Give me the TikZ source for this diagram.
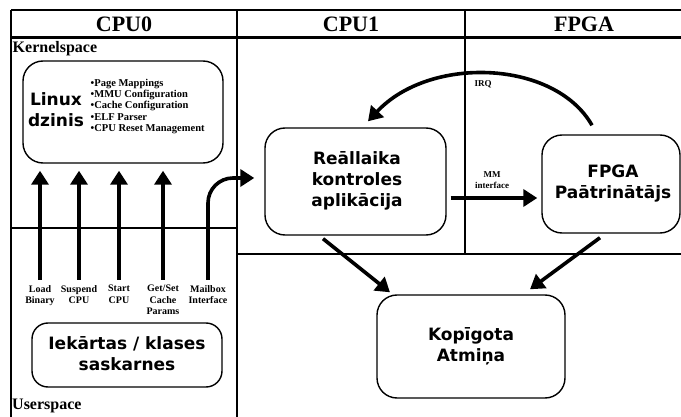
\documentclass[tikz,border=0pt]{standalone}
\usepackage{fontspec}
\setmainfont{Liberation Serif}
\newfontfamily\boxfont{DejaVu Sans}
\usetikzlibrary{arrows.meta}

\begin{document}
\begin{tikzpicture}[x=1pt,y=-1pt,
  frame/.style={line width=1.3pt},
  headline/.style={line width=2.6pt},
  procbox/.style={draw, line width=1.4pt, rounded corners=20pt, inner sep=0pt},
  boxtext/.style={font=\boxfont\bfseries\fontsize{17}{21}\selectfont, align=center, inner sep=0pt},
  headtext/.style={font=\bfseries\fontsize{22}{24}\selectfont, inner sep=0pt},
  spacetext/.style={font=\bfseries\fontsize{16}{18}\selectfont, inner sep=0pt, anchor=west},
  calltext/.style={font=\bfseries\fontsize{10}{11.5}\selectfont, align=center, inner sep=0pt, anchor=north},
  smalltext/.style={font=\bfseries\fontsize{9}{11}\selectfont, align=center, inner sep=0pt},
  flow/.style={line width=3.6pt, -{Triangle[length=14pt,width=17pt]}},
]
\useasboundingbox[fill=white] (0,0) rectangle (681,417);

% column and region frame
\draw[frame] (11,10) -- (681,10);
\draw[headline] (11,37.5) -- (681,37.5);
\draw[frame] (11,10) -- (11,417);
\draw[frame] (237,10) -- (237,417);
\draw[frame] (465,10) -- (465,254);
\draw[frame] (237,254) -- (681,254);
\draw[frame] (11,228) -- (237,228);

% column headings and space labels
\node[headtext] (hcpu0) at (124,24) {CPU0};
\node[headtext] (hcpu1) at (351,24) {CPU1};
\node[headtext] (hfpga) at (584,24) {FPGA};
\node[spacetext] (kspace) at (12.5,49) {Kernelspace};
\node[spacetext] (uspace) at (12,406) {Userspace};

% kernel driver
\node[procbox, minimum width=200pt, minimum height=102pt] (linux) at (123,112) {};
\node[boxtext] (linuxtxt) at (56,109.5) {Linux\\dzinis};
\node[font=\bfseries\fontsize{10.5}{11.2}\selectfont, align=left, inner sep=0pt, anchor=west] (duties) at (90.5,106.5)
  {•Page Mappings\\•MMU Configuration\\•Cache Configuration\\•ELF Parser\\•CPU Reset Management};

% user space interface
\node[procbox, rounded corners=16pt, minimum width=190pt, minimum height=64pt] (iface) at (127,355) {};
\node[boxtext] (ifacetxt) at (127,354) {Iekārtas / klases\\saskarnes};

% calls from user space
\node[calltext] (load) at (40,285) {Load\\Binary};
\node[calltext] (susp) at (79,285) {Suspend\\CPU};
\node[calltext] (start) at (119,285) {Start\\CPU};
\node[calltext] (cache) at (163,285) {Get/Set\\Cache\\Params};
\node[calltext] (mail) at (208,285) {Mailbox\\Interface};

\foreach \n in {load,susp,start,cache}
  \draw[flow, shorten >=7pt, shorten <=5pt] (\n.north) -- (\n.north |- linux.south);

% real-time application, accelerator, shared memory
\node[procbox, minimum width=181pt, minimum height=107pt] (rt) at (355.5,181.5) {};
\node[boxtext] (rttxt) at (357,181) {Reāllaika\\kontroles\\aplikācija};
\node[procbox, minimum width=138pt, minimum height=98pt] (fpga) at (611,184) {};
\node[boxtext] (fpgatxt) at (613,184) {FPGA\\Paātrinātājs};
\node[procbox, minimum width=188pt, minimum height=103pt] (shm) at (471,346.5) {};
\node[boxtext] (shmtxt) at (471,346.5) {Kopīgota\\Atmiņa};

% mailbox path into CPU1
\draw[flow, rounded corners=25pt, shorten <=5pt, shorten >=10pt]
  (mail.north) |- ([yshift=3.5pt]rt.west);

% memory mapped interface
\draw[flow, shorten <=4pt, shorten >=4pt]
  ([yshift=-16.5pt]rt.east) -- ([yshift=-16.5pt]rt.east -| fpga.west);
\node[smalltext] (mmlbl) at (492,180.5) {MM\\interface};

% interrupt back to CPU1
\draw[flow] ([xshift=-19pt,yshift=9pt]fpga.north) .. controls (555,60) and (430,55) .. ([xshift=12.5pt,yshift=6pt]rt.north);
\node[smalltext] (irqlbl) at (483,84) {IRQ};

% both sides use the shared memory
\draw[flow] ([xshift=-32.5pt,yshift=-3pt]rt.south) -- ([xshift=-81pt,yshift=2pt]shm.north);
\draw[flow] ([xshift=-11pt,yshift=-4pt]fpga.south) -- ([xshift=59pt,yshift=5pt]shm.north);
\end{tikzpicture}
\end{document}
